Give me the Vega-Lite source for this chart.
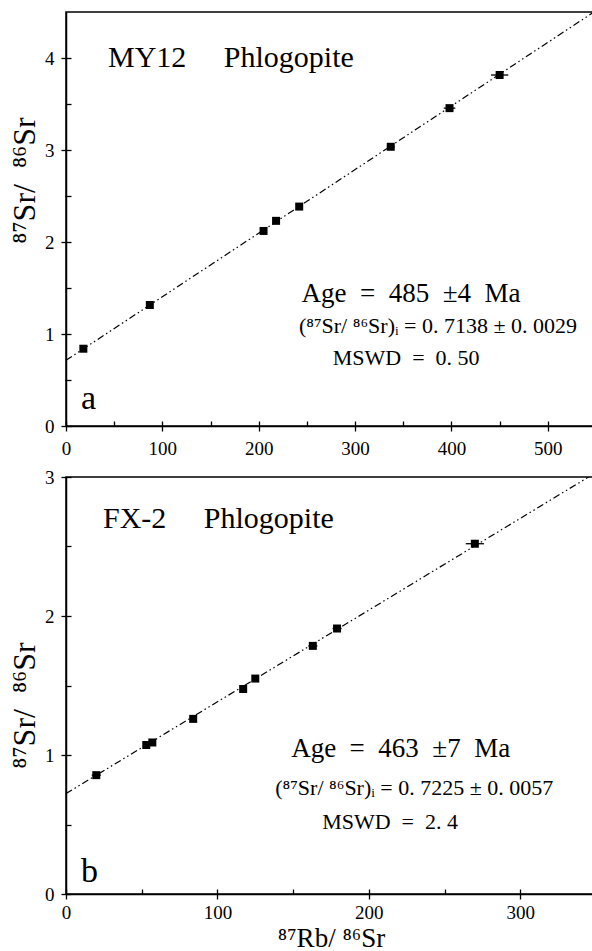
{
  "$schema": "https://vega.github.io/schema/vega-lite/v6.json",
  "padding": {"left": 7, "top": 11, "right": 0, "bottom": 0},
  "background": "white",
  "config": {
    "font": "'Liberation Serif', 'Times New Roman', Times, 'DejaVu Serif', serif",
    "view": {"stroke": "black", "strokeWidth": 1.5},
    "text": {"font": "'Liberation Serif', 'Times New Roman', Times, 'DejaVu Serif', serif"},
    "axis": {"domainColor": "black", "domainWidth": 1.5, "tickColor": "black", "tickWidth": 1.3, "labelColor": "black", "titleColor": "black", "grid": false, "labelFont": "'Liberation Serif', 'Times New Roman', Times, 'DejaVu Serif', serif", "titleFont": "'Liberation Serif', 'Times New Roman', Times, 'DejaVu Serif', serif", "labelFontSize": 19, "titleFontSize": 32, "titleFontWeight": "normal"}
  },
  "datasets": {
    "pa": [
      {"x": 18, "y": 0.84, "xlo": 16, "xhi": 20},
      {"x": 87, "y": 1.315, "xlo": 85, "xhi": 89},
      {"x": 205, "y": 2.12, "xlo": 203, "xhi": 207},
      {"x": 218, "y": 2.23, "xlo": 216, "xhi": 220},
      {"x": 242, "y": 2.385, "xlo": 239, "xhi": 245},
      {"x": 337, "y": 3.035, "xlo": 333, "xhi": 341},
      {"x": 398, "y": 3.455, "xlo": 392, "xhi": 404},
      {"x": 450, "y": 3.815, "xlo": 441, "xhi": 459}
    ],
    "pb": [
      {"x": 20, "y": 0.855, "xlo": 17, "xhi": 23},
      {"x": 53, "y": 1.072, "xlo": 51, "xhi": 55},
      {"x": 57, "y": 1.09, "xlo": 55, "xhi": 59},
      {"x": 84, "y": 1.26, "xlo": 82, "xhi": 86},
      {"x": 117, "y": 1.475, "xlo": 115, "xhi": 119},
      {"x": 125, "y": 1.55, "xlo": 123, "xhi": 127},
      {"x": 163, "y": 1.785, "xlo": 160, "xhi": 166},
      {"x": 179, "y": 1.91, "xlo": 176, "xhi": 182},
      {"x": 270, "y": 2.52, "xlo": 264, "xhi": 276}
    ],
    "la": [{"x": 0, "y": 0.7138}, {"x": 550, "y": 4.515}],
    "lb": [{"x": 0, "y": 0.7225}, {"x": 350, "y": 3.0325}]
  },
  "vconcat": [
    {
      "width": 530,
      "height": 414,
      "resolve": {"axis": {"x": "independent", "y": "independent"}},
      "layer": [
        {
          "data": {"name": "la"},
          "mark": {"type": "line", "color": "black", "strokeWidth": 1.2, "strokeDash": [7, 3, 1.5, 3, 1.5, 3], "clip": true},
          "encoding": {
            "x": {"field": "x", "type": "quantitative", "scale": {"domain": [0, 550], "nice": false, "zero": false},
              "axis": {"orient": "bottom", "values": [0, 50, 100, 150, 200, 250, 300, 350, 400, 450, 500], "tickSize": -5, "labels": false, "domain": false, "title": null}},
            "y": {"field": "y", "type": "quantitative", "scale": {"domain": [0, 4.5], "nice": false, "zero": false},
              "axis": {"orient": "left", "values": [0, 0.5, 1, 1.5, 2, 2.5, 3, 3.5, 4], "tickSize": -5, "labels": false, "domain": false, "title": null}}
          }
        },
        {
          "data": {"name": "pa"},
          "mark": {"type": "rule", "color": "black", "strokeWidth": 1.3},
          "encoding": {
            "x": {"field": "xlo", "type": "quantitative", "axis": null},
            "x2": {"field": "xhi"},
            "y": {"field": "y", "type": "quantitative", "axis": null}
          }
        },
        {
          "data": {"name": "pa"},
          "mark": {"type": "point", "shape": "square", "filled": true, "color": "black", "size": 64, "opacity": 1},
          "encoding": {
            "x": {"field": "x", "type": "quantitative",
              "axis": {"orient": "bottom", "values": [0, 100, 200, 300, 400, 500], "tickSize": 5, "labelPadding": 8, "title": null, "labelFlush": false}},
            "y": {"field": "y", "type": "quantitative",
              "axis": {"orient": "left", "values": [0, 1, 2, 3, 4], "tickSize": 5, "labelPadding": 7, "title": "⁸⁷Sr/\u00a0\u00a0⁸⁶Sr", "titleAngle": 270, "titleAlign": "center", "titleBaseline": "middle", "titleX": -42, "titleY": 168}}
          }
        },
        {
          "data": {"values": [{"x": 43.6, "y": 4.0, "t": "MY12\u00a0\u00a0\u00a0\u00a0\u00a0Phlogopite"}]},
          "mark": {"type": "text", "align": "left", "baseline": "middle", "fontSize": 30, "color": "black"},
          "encoding": {"x": {"field": "x", "type": "quantitative", "axis": null}, "y": {"field": "y", "type": "quantitative", "axis": null}, "text": {"field": "t"}}
        },
        {
          "data": {"values": [{"x": 358, "y": 1.43, "t": "Age\u00a0\u00a0=\u00a0\u00a0485\u00a0\u00a0±4\u00a0\u00a0Ma"}]},
          "mark": {"type": "text", "align": "center", "baseline": "middle", "fontSize": 27, "color": "black"},
          "encoding": {"x": {"field": "x", "type": "quantitative", "axis": null}, "y": {"field": "y", "type": "quantitative", "axis": null}, "text": {"field": "t"}}
        },
        {
          "data": {"values": [{"x": 386, "y": 1.09, "t": "(⁸⁷Sr/\u00a0⁸⁶Sr)ᵢ\u00a0=\u00a00.\u00a07138\u00a0±\u00a00.\u00a00029"}, {"x": 353, "y": 0.74, "t": "MSWD\u00a0\u00a0=\u00a0\u00a00.\u00a050"}]},
          "mark": {"type": "text", "align": "center", "baseline": "middle", "fontSize": 22, "color": "black"},
          "encoding": {"x": {"field": "x", "type": "quantitative", "axis": null}, "y": {"field": "y", "type": "quantitative", "axis": null}, "text": {"field": "t"}}
        },
        {
          "data": {"values": [{"x": 15.6, "y": 0.185, "t": "a"}]},
          "mark": {"type": "text", "align": "left", "baseline": "alphabetic", "fontSize": 34, "color": "black"},
          "encoding": {"x": {"field": "x", "type": "quantitative", "axis": null}, "y": {"field": "y", "type": "quantitative", "axis": null}, "text": {"field": "t"}}
        }
      ]
    },
    {
      "width": 530,
      "height": 417,
      "resolve": {"axis": {"x": "independent", "y": "independent"}},
      "layer": [
        {
          "data": {"name": "lb"},
          "mark": {"type": "line", "color": "black", "strokeWidth": 1.2, "strokeDash": [7, 3, 1.5, 3, 1.5, 3], "clip": true},
          "encoding": {
            "x": {"field": "x", "type": "quantitative", "scale": {"domain": [0, 350], "nice": false, "zero": false},
              "axis": {"orient": "bottom", "values": [0, 50, 100, 150, 200, 250, 300, 350], "tickSize": -5, "labels": false, "domain": false, "title": null}},
            "y": {"field": "y", "type": "quantitative", "scale": {"domain": [0, 3], "nice": false, "zero": false},
              "axis": {"orient": "left", "values": [0, 0.5, 1, 1.5, 2, 2.5, 3], "tickSize": -5, "labels": false, "domain": false, "title": null}}
          }
        },
        {
          "data": {"name": "pb"},
          "mark": {"type": "rule", "color": "black", "strokeWidth": 1.3},
          "encoding": {
            "x": {"field": "xlo", "type": "quantitative", "axis": null},
            "x2": {"field": "xhi"},
            "y": {"field": "y", "type": "quantitative", "axis": null}
          }
        },
        {
          "data": {"name": "pb"},
          "mark": {"type": "point", "shape": "square", "filled": true, "color": "black", "size": 64, "opacity": 1},
          "encoding": {
            "x": {"field": "x", "type": "quantitative",
              "axis": {"orient": "bottom", "values": [0, 100, 200, 300], "tickSize": 5, "labelPadding": 4, "title": "⁸⁷Rb/\u00a0⁸⁶Sr", "titleFontSize": 27, "titleBaseline": "middle", "titleY": 44, "labelFlush": false}},
            "y": {"field": "y", "type": "quantitative",
              "axis": {"orient": "left", "values": [0, 1, 2, 3], "tickSize": 5, "labelPadding": 7, "title": "⁸⁷Sr/\u00a0\u00a0⁸⁶Sr", "titleAngle": 270, "titleAlign": "center", "titleBaseline": "middle", "titleX": -42, "titleY": 228}}
          }
        },
        {
          "data": {"values": [{"x": 24.4, "y": 2.7, "t": "FX-2\u00a0\u00a0\u00a0\u00a0\u00a0Phlogopite"}]},
          "mark": {"type": "text", "align": "left", "baseline": "middle", "fontSize": 30, "color": "black"},
          "encoding": {"x": {"field": "x", "type": "quantitative", "axis": null}, "y": {"field": "y", "type": "quantitative", "axis": null}, "text": {"field": "t"}}
        },
        {
          "data": {"values": [{"x": 221, "y": 1.04, "t": "Age\u00a0\u00a0=\u00a0\u00a0463\u00a0\u00a0±7\u00a0\u00a0Ma"}]},
          "mark": {"type": "text", "align": "center", "baseline": "middle", "fontSize": 27, "color": "black"},
          "encoding": {"x": {"field": "x", "type": "quantitative", "axis": null}, "y": {"field": "y", "type": "quantitative", "axis": null}, "text": {"field": "t"}}
        },
        {
          "data": {"values": [{"x": 230, "y": 0.76, "t": "(⁸⁷Sr/\u00a0⁸⁶Sr)ᵢ\u00a0=\u00a00.\u00a07225\u00a0±\u00a00.\u00a00057"}, {"x": 214, "y": 0.52, "t": "MSWD\u00a0\u00a0=\u00a0\u00a02.\u00a04"}]},
          "mark": {"type": "text", "align": "center", "baseline": "middle", "fontSize": 22, "color": "black"},
          "encoding": {"x": {"field": "x", "type": "quantitative", "axis": null}, "y": {"field": "y", "type": "quantitative", "axis": null}, "text": {"field": "t"}}
        },
        {
          "data": {"values": [{"x": 9.9, "y": 0.086, "t": "b"}]},
          "mark": {"type": "text", "align": "left", "baseline": "alphabetic", "fontSize": 34, "color": "black"},
          "encoding": {"x": {"field": "x", "type": "quantitative", "axis": null}, "y": {"field": "y", "type": "quantitative", "axis": null}, "text": {"field": "t"}}
        }
      ]
    }
  ],
  "spacing": 8
}
